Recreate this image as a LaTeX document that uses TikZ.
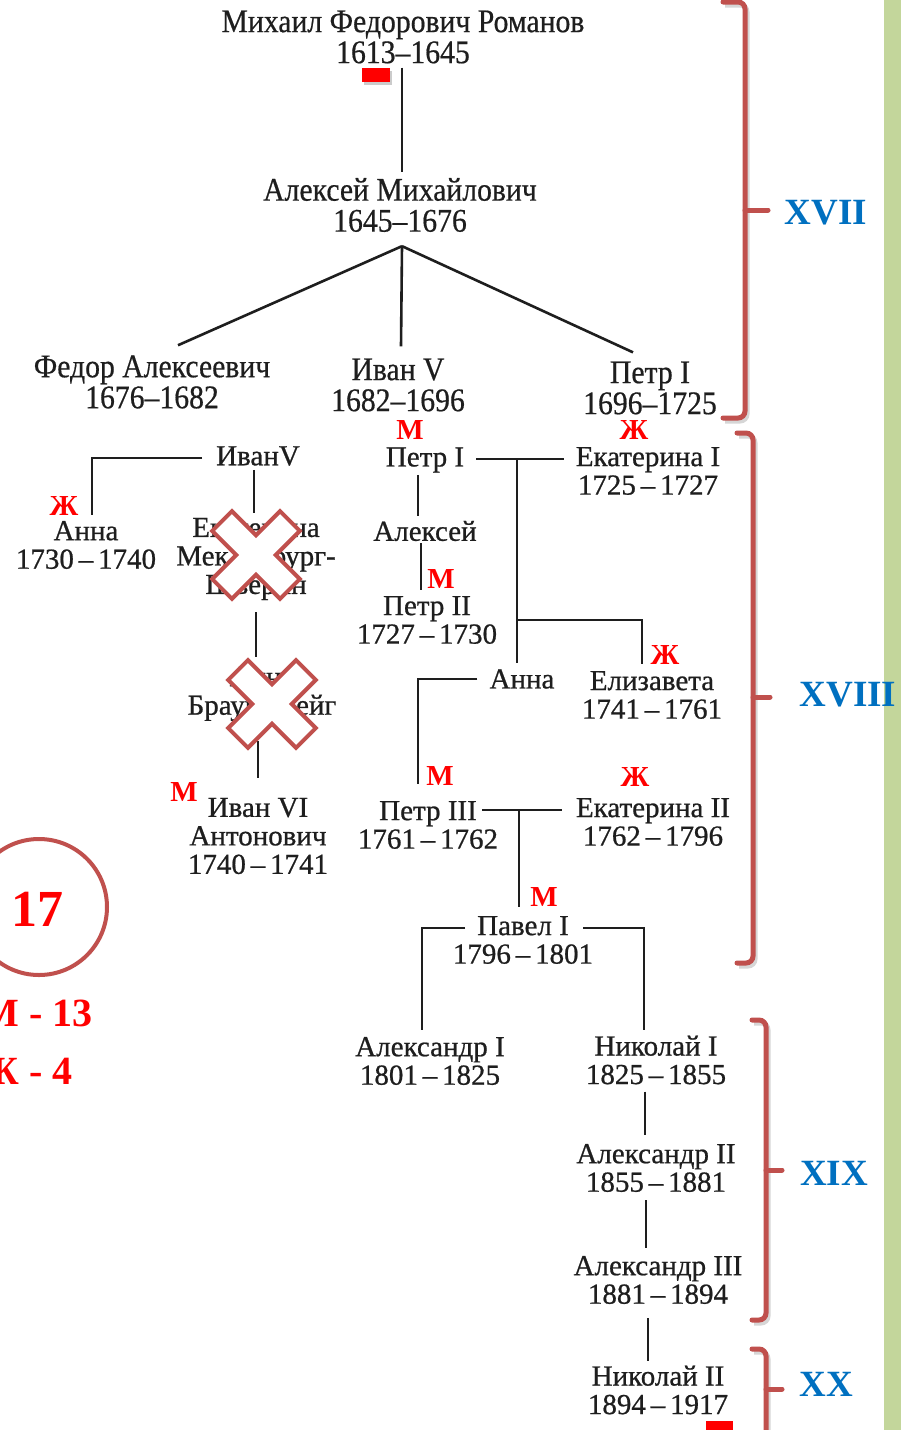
\documentclass[tikz,border=0pt]{standalone}
\usepackage{fontspec}
\setmainfont{Liberation Serif}
\newfontfamily\condf[FakeStretch=0.9,FakeBold=0.5]{Liberation Serif}
\newfontfamily\bodyf[FakeBold=0.7]{Liberation Serif}
\usetikzlibrary{calc}
\definecolor{brred}{HTML}{C0504D}
\definecolor{stblue}{HTML}{0070C0}
\definecolor{grbar}{HTML}{C3D69B}
\definecolor{ink}{HTML}{1E1E1E}
\begin{document}
\begin{tikzpicture}[x=1pt,y=-1pt,
  nm/.style={font=\bodyf\fontsize{29}{28.5}\selectfont, align=center, inner sep=0pt, text=ink},
  tp/.style={font=\condf\fontsize{33}{31}\selectfont, align=center, inner sep=0pt, text=ink},
  sx/.style={font=\bfseries\fontsize{29}{29}\selectfont, text=red, inner sep=0pt},
  cent/.style={font=\bfseries\fontsize{37}{37}\selectfont, text=stblue, inner sep=0pt},
  cnt/.style={font=\bfseries\fontsize{40}{40}\selectfont, text=red, inner sep=0pt},
  ln/.style={draw=ink, line width=2.6pt},
  brace/.style={draw=brred, line width=5pt, rounded corners=7pt, line cap=round},
  bshadow/.style={draw=black!35, line width=5pt, rounded corners=7pt, opacity=0.45},
  xc/.style={draw=brred, fill=white, line width=4pt, line join=miter},
]
\useasboundingbox (0,0) rectangle (901,1430);
\fill[white] (0,0) rectangle (901,1430);
\fill[grbar] (884,0) rectangle (901,1430);

% ---- top rows
\node[tp] (mikh) at (403,37) {Михаил Федорович Романов\\1613–1645};
\node[tp] (alexm) at (400,205) {Алексей Михайлович\\1645–1676};
\node[tp] (fedor) at (152,382) {Федор Алексеевич\\1676–1682};
\node[tp] (ivan5) at (398,385) {Иван V\\1682–1696};
\node[tp] (petr1) at (650,388) {Петр I\\1696–1725};
\coordinate (apex) at ($(alexm.south)+(2,14)$);

\draw[ln] ($(mikh.south -| apex)+(0,4)$) -- ($(alexm.north -| apex)+(0,-6)$);
\draw[ln] (apex) -- ($(fedor.north)+(26,-10)$);
\draw[ln] (apex) -- ($(ivan5.north)+(3,-12)$);
\draw[ln] (apex) -- ($(petr1.north)+(-17,-9)$);

% ---- left column
\node[nm] (ivan5b) at (258,456) {ИванV};
\node[nm] (annal) at (86,545) {Анна\\1730\,–\,1740};
\node[nm] (ekmeck) at (256,559) {Екатерина\\Мекленбург-\\Шверин};
\node[nm] (annab) at (262,694) {Анна\\Брауншвейг};
\node[nm] (ivan6) at (258,836) {Иван VI\\Антонович\\1740\,–\,1741};

\draw[ln] ($(ivan5b.west)+(-14,2)$) -| ($(annal.north)+(6,-6)$);
\draw[ln] ($(ivan5b.south)+(-4,4)$) -- ($(ekmeck.north -| ivan5b.south)+(-4,-5)$);
\draw[ln] ($(ekmeck.south)+(0,12)$) -- ($(annab.north -| ekmeck.south)+(0,-10)$);
\draw[ln] ($(annab.south)+(-4,20)$) -- ($(ivan6.north -| annab.south)+(-4,-20)$);

% ---- middle
\node[nm] (petr1b) at (425,460) {Петр I};
\node[nm] (ekat1) at (648,471) {Екатерина I\\1725\,–\,1727};
\node[nm] (alek) at (425,531) {Алексей};
\node[nm] (petr2) at (427,620) {Петр II\\1727\,–\,1730};
\node[nm] (annam) at (522,679) {Анна};
\node[nm] (eliz) at (652,695) {Елизавета\\1741\,–\,1761};
\node[nm] (petr3) at (428,825) {Петр III\\1761\,–\,1762};
\node[nm] (ekat2) at (653,822) {Екатерина II\\1762\,–\,1796};
\node[nm] (pavel) at (523,940) {Павел I\\1796\,–\,1801};
\node[nm] (alex1) at (430,1061) {Александр I\\1801\,–\,1825};
\node[nm] (nik1) at (656,1060) {Николай I\\1825\,–\,1855};
\node[nm] (alex2) at (656,1168) {Александр II\\1855\,–\,1881};
\node[nm] (alex3) at (658,1280) {Александр III\\1881\,–\,1894};
\node[nm] (nik2) at (658,1390) {Николай II\\1894\,–\,1917};

\coordinate (j1) at ($(petr1b.center)+(92,-1)$);
\draw[ln] ($(petr1b.east)+(12,-1)$) -- ($(ekat1.west |- j1)+(-12,0)$);
\draw[ln] (j1) -- ($(annam.north -| j1)+(0,-6)$);
\coordinate (j1b) at ($(j1)+(0,161)$);
\draw[ln] (j1b) -| ($(eliz.north)+(-10,-7)$);
\draw[ln] ($(petr1b.south)+(-7,2)$) -- ($(alek.north -| petr1b.south)+(-7,-5)$);
\draw[ln] ($(alek.south)+(-4,2)$) -- ($(petr2.north -| alek.south)+(-4,-6)$);
\draw[ln] ($(annam.west)+(-12,0)$) -| ($(petr3.north)+(-10,-17)$);
\coordinate (j2) at ($(petr3.center)+(91,-15)$);
\draw[ln] ($(petr3.center)+(54,-15)$) -- ($(ekat2.center)+(-91,-12)$);
\draw[ln] (j2) -- ($(pavel.north -| j2)+(0,-9)$);
\draw[ln] ($(pavel.center)+(-58,-12)$) -| ($(alex1.north)+(-8,-7)$);
\draw[ln] ($(pavel.center)+(60,-12)$) -| ($(nik1.north)+(-12,-5)$);
\draw[ln] ($(nik1.south)+(-11,7)$) -- ($(alex2.north -| nik1.south)+(-11,-9)$);
\draw[ln] ($(alex2.south)+(-10,8)$) -- ($(alex3.north -| alex2.south)+(-10,-8)$);
\draw[ln] ($(alex3.south)+(-10,14)$) -- ($(nik2.north -| alex3.south)+(-10,-4)$);

% ---- sex markers
\node[sx] (s1) at (410,430) {М};
\node[sx] (s2) at (634,430) {Ж};
\node[sx] (s3) at (64,506) {Ж};
\node[sx] (s4) at (441,579) {М};
\node[sx] (s5) at (665,655) {Ж};
\node[sx] (s6) at (184,792) {М};
\node[sx] (s7) at (440,776) {М};
\node[sx] (s8) at (635,777) {Ж};
\node[sx] (s9) at (544,897) {М};

% ---- crosses
\foreach \cx/\cy in {256/555, 272/704}{
  \draw[xc, shift={(\cx,\cy)}, rotate=45]
    (14,14) -- (14,48) -- (-14,48) -- (-14,14) -- (-48,14) -- (-48,-14)
    -- (-14,-14) -- (-14,-48) -- (14,-48) -- (14,-14) -- (48,-14) -- (48,14) -- cycle;
}

% ---- red marks
\fill[black!40, opacity=.5] (364,71) rectangle (392,85);
\fill[red] (362,68) rectangle (390,82);
\fill[red] (706,1421) rectangle (733,1432);

% ---- circle & counts
\draw[brred, line width=4pt] (39,907) circle (68);
\node[font=\bfseries\fontsize{52}{52}\selectfont, text=red, inner sep=0pt] (n17) at (38,909) {17};
\node[cnt, anchor=east] (cm) at (93,1013) {М - 13};
\node[cnt, anchor=east] (cf) at (73,1071) {Ж - 4};

% ---- braces
\begin{scope}[shift={(2,3)}]
\draw[bshadow] (723,2) -- (745,2) -- (745,418) -- (723,418);
\draw[bshadow] (737,433) -- (753,433) -- (753,963) -- (737,963);
\draw[bshadow] (752,1020) -- (766,1020) -- (766,1320) -- (752,1320);
\draw[bshadow] (752,1349) -- (766,1349) -- (766,1440);
\end{scope}
\draw[brace] (723,2) -- (745,2) -- (745,418) -- (723,418);
\draw[brace] (745,210) -- (768,210);
\draw[brace] (737,433) -- (753,433) -- (753,963) -- (737,963);
\draw[brace] (753,697) -- (770,697);
\draw[brace] (752,1020) -- (766,1020) -- (766,1320) -- (752,1320);
\draw[brace] (766,1170) -- (782,1170);
\draw[brace] (752,1349) -- (766,1349) -- (766,1440);
\draw[brace] (766,1389) -- (782,1389);

\node[cent] (c17) at (826,213) {XVII};
\node[cent] (c18) at (848,695) {XVIII};
\node[cent] (c19) at (834,1173) {XIX};
\node[cent] (c20) at (826,1384) {XX};
\end{tikzpicture}
\end{document}
